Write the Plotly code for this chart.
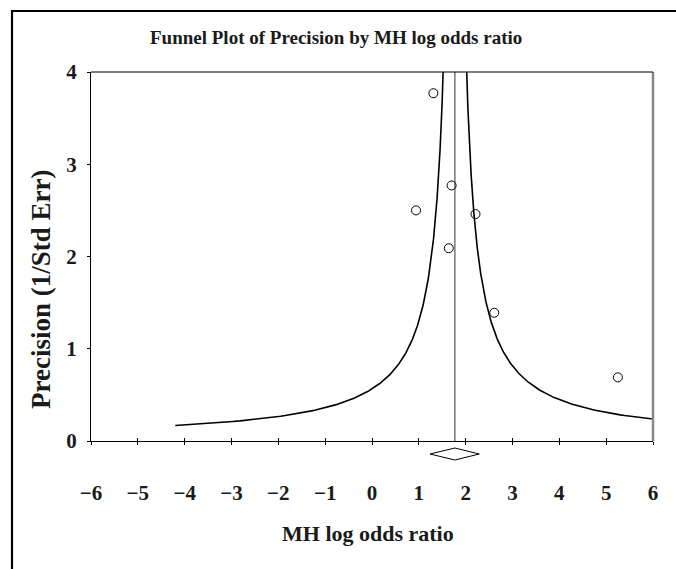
import plotly.graph_objects as go
import numpy as np

# Study data
log_odds = [1.31, 1.70, 0.94, 2.21, 1.64, 2.61, 5.25]
precision = [3.77, 2.77, 2.50, 2.46, 2.09, 1.39, 0.69]

# Pooled estimate and its confidence interval (diamond)
pooled = 1.77
ci_low = 1.24
ci_high = 2.29

x_ticks = [-6, -5, -4, -3, -2, -1, 0, 1, 2, 3, 4, 5, 6]
x_tick_text = ["\u22126", "\u22125", "\u22124", "\u22123", "\u22122", "\u22121", "0", "1", "2", "3", "4", "5", "6"]
y_ticks = [0, 1, 2, 3, 4]

W, H = 676, 569
L, R, T, B = 91, 653, 72, 441  # plot area in pixels


def px(xp):
    return (xp - L) / (R - L)


def py(yp):
    return (B - yp) / (B - T)


# funnel limits: pooled +/- 1/precision
p_curve = np.linspace(0.1675, 4.5, 600)
left_x = pooled - 1.0 / p_curve
right_x = pooled + 1.0 / p_curve

font_family = "Liberation Serif, Times New Roman, serif"
txt = "#1a1a1a"

fig = go.Figure()
fig.add_trace(go.Scatter(x=left_x, y=p_curve, mode="lines",
                         line=dict(color="black", width=1.6), hoverinfo="skip"))
fig.add_trace(go.Scatter(x=right_x, y=p_curve, mode="lines",
                         line=dict(color="black", width=1.6), hoverinfo="skip"))
fig.add_trace(go.Scatter(x=[pooled, pooled], y=[0, 4], mode="lines",
                         line=dict(color="#555555", width=1.2), hoverinfo="skip"))
fig.add_trace(go.Scatter(x=log_odds, y=precision, mode="markers",
                         marker=dict(symbol="circle-open", size=9, color="black",
                                     line=dict(width=1, color="black"))))
# inside half of crossing ticks
fig.add_trace(go.Scatter(x=[0], y=[0], xaxis="x2", mode="markers",
                         marker=dict(opacity=0), hoverinfo="skip"))

shapes = []
# right border of plot box (gray)
shapes.append(dict(type="line", xref="paper", yref="paper", x0=1, x1=1, y0=0, y1=1,
                   line=dict(color="#888888", width=2.5)))
# top border
shapes.append(dict(type="line", xref="paper", yref="paper", x0=0, x1=1, y0=1, y1=1,
                   line=dict(color="black", width=1.2)))
# outer frame (left and top)
fx, fy = px(12), py(11)
shapes.append(dict(type="path", xref="paper", yref="paper",
                   path=f"M {fx},{py(575)} L {fx},{fy} L {px(680)},{fy}",
                   line=dict(color="black", width=2.2)))
# diamond
d_top, d_mid, d_bot = py(448), py(454), py(460)
shapes.append(dict(type="path", xref="x", yref="paper",
                   path=f"M {ci_low},{d_mid} L {pooled},{d_top} L {ci_high},{d_mid} L {pooled},{d_bot} Z",
                   line=dict(color="black", width=1), fillcolor="white"))

annotations = [
    dict(text="<b>Funnel Plot of Precision by MH log odds ratio</b>", xref="paper", yref="paper",
         x=px(336), y=py(38), xanchor="center", yanchor="middle", showarrow=False,
         font=dict(family=font_family, size=19, color=txt)),
    dict(text="<b>MH log odds ratio</b>", xref="paper", yref="paper",
         x=px(368), y=py(533), xanchor="center", yanchor="middle", showarrow=False,
         font=dict(family=font_family, size=22, color=txt)),
    dict(text="<b>Precision (1/Std Err)</b>", xref="paper", yref="paper", textangle=-90,
         x=px(41), y=py(290), xanchor="center", yanchor="middle", showarrow=False,
         font=dict(family=font_family, size=27, color=txt)),
]

fig.update_layout(
    width=W, height=H,
    margin=dict(l=L, r=W - R, t=T, b=H - B, pad=0),
    paper_bgcolor="white", plot_bgcolor="white",
    showlegend=False,
    shapes=shapes,
    annotations=annotations,
    xaxis=dict(range=[-6, 6], tickvals=x_ticks, ticktext=["<b>%s</b>" % t for t in x_tick_text],
               showgrid=False, zeroline=False, showline=True, linecolor="black", linewidth=1.2,
               ticks="outside", ticklen=3, tickcolor="black", tickwidth=1,
               ticklabelstandoff=30,
               tickfont=dict(family=font_family, size=21, color=txt)),
    xaxis2=dict(range=[-6, 6], tickvals=x_ticks[1:-1], overlaying="x", anchor="y", side="bottom",
                showgrid=False, zeroline=False, showline=False, showticklabels=False,
                ticks="inside", ticklen=3, tickcolor="black", tickwidth=1),
    yaxis=dict(range=[0, 4], tickvals=y_ticks, ticktext=["<b>%d</b>" % v for v in y_ticks],
               showgrid=False, zeroline=False,
               showline=True, linecolor="black", linewidth=1.2,
               ticks="outside", ticklen=3, tickcolor="black", tickwidth=1,
               ticklabelstandoff=6,
               tickfont=dict(family=font_family, size=21, color=txt)),
)

fig.write_html("out.html", config={"displayModeBar": False},
               post_script="document.body.style.margin='0px';document.body.style.padding='0px';document.body.style.overflow='hidden';")
